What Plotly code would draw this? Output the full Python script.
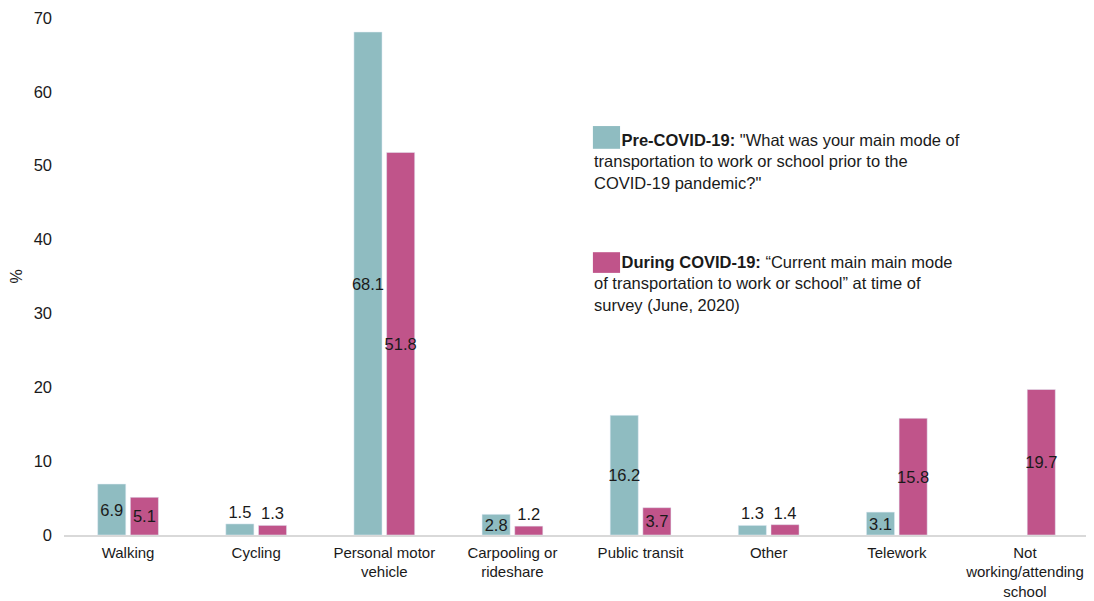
import plotly.graph_objects as go

categories = ["Walking", "Cycling", "Personal motor<br>vehicle", "Carpooling or<br>rideshare",
              "Public transit", "Other", "Telework", "Not<br>working/attending<br>school"]
pre_covid = [6.9, 1.5, 68.1, 2.8, 16.2, 1.3, 3.1, None]
during_covid = [5.1, 1.3, 51.8, 1.2, 3.7, 1.4, 15.8, 19.7]
y_ticks = [0, 10, 20, 30, 40, 50, 60, 70]

TEAL = "#8fbcc1"
PINK = "#c0548a"
FONT = "Liberation Sans, Arial, sans-serif"
TXT = "#1a1a1a"

def labels(vals):
    return ["" if v is None else f"{v:.1f}" for v in vals]

def positions(vals):
    return ["outside" if (v is not None and v < 2) else "inside" for v in vals]

fig = go.Figure()
for vals, name, color in [(pre_covid, "Pre-COVID-19", TEAL), (during_covid, "During COVID-19", PINK)]:
    fig.add_trace(go.Bar(x=categories, y=vals, name=name, marker_color=color,
                         text=labels(vals), textposition=positions(vals), insidetextanchor="middle",
                         textangle=0, constraintext="none", cliponaxis=False,
                         textfont=dict(family=FONT, size=16.5, color=TXT)))

# legend drawn as text blocks with colour squares (paper coordinates)
nb = "\u00a0" * 6
legend_items = [
    (TEAL, 0.747, 0.791, 0.785,
     nb + "<b>Pre-COVID-19:</b> \"What was your main mode of<br>"
     "transportation to work or school prior to the<br>COVID-19 pandemic?\""),
    (PINK, 0.507, 0.547, 0.549,
     nb + "<b>During COVID-19:</b> \u201cCurrent main main mode<br>"
     "of transportation to work or school\u201d at time of<br>survey (June, 2020)"),
]
for color, y0, y1, ytxt, txt in legend_items:
    fig.add_annotation(xref="paper", yref="paper", x=0.515, y=ytxt, xanchor="left", yanchor="top",
                       text=txt, showarrow=False, align="left",
                       font=dict(family=FONT, size=16.5, color=TXT))
    fig.add_shape(type="rect", xref="paper", yref="paper",
                  x0=0.516, x1=0.5425, y0=y0, y1=y1,
                  fillcolor=color, line=dict(width=0))

fig.update_layout(
    width=1086, height=593,
    margin=dict(l=56, r=5, t=10, b=66),
    paper_bgcolor="white", plot_bgcolor="white",
    barmode="group", bargap=0.49, bargroupgap=0.14,
    showlegend=False,
    font=dict(family=FONT, size=16.5, color=TXT),
    uniformtext=dict(minsize=15, mode="show"),
    xaxis=dict(showline=True, linecolor="#d9d9d9", linewidth=1.5, ticks="",
               automargin=False, ticklabelstandoff=3,
               tickfont=dict(family=FONT, size=15, color=TXT)),
    yaxis=dict(range=[0, 70], tickvals=y_ticks, showgrid=False, zeroline=False, showline=False,
               ticks="", ticklabelstandoff=11, automargin=False,
               tickfont=dict(family=FONT, size=16.5, color=TXT),
               title=dict(text="%", font=dict(family=FONT, size=16), standoff=10)),
)

fig.write_html("out.html")
